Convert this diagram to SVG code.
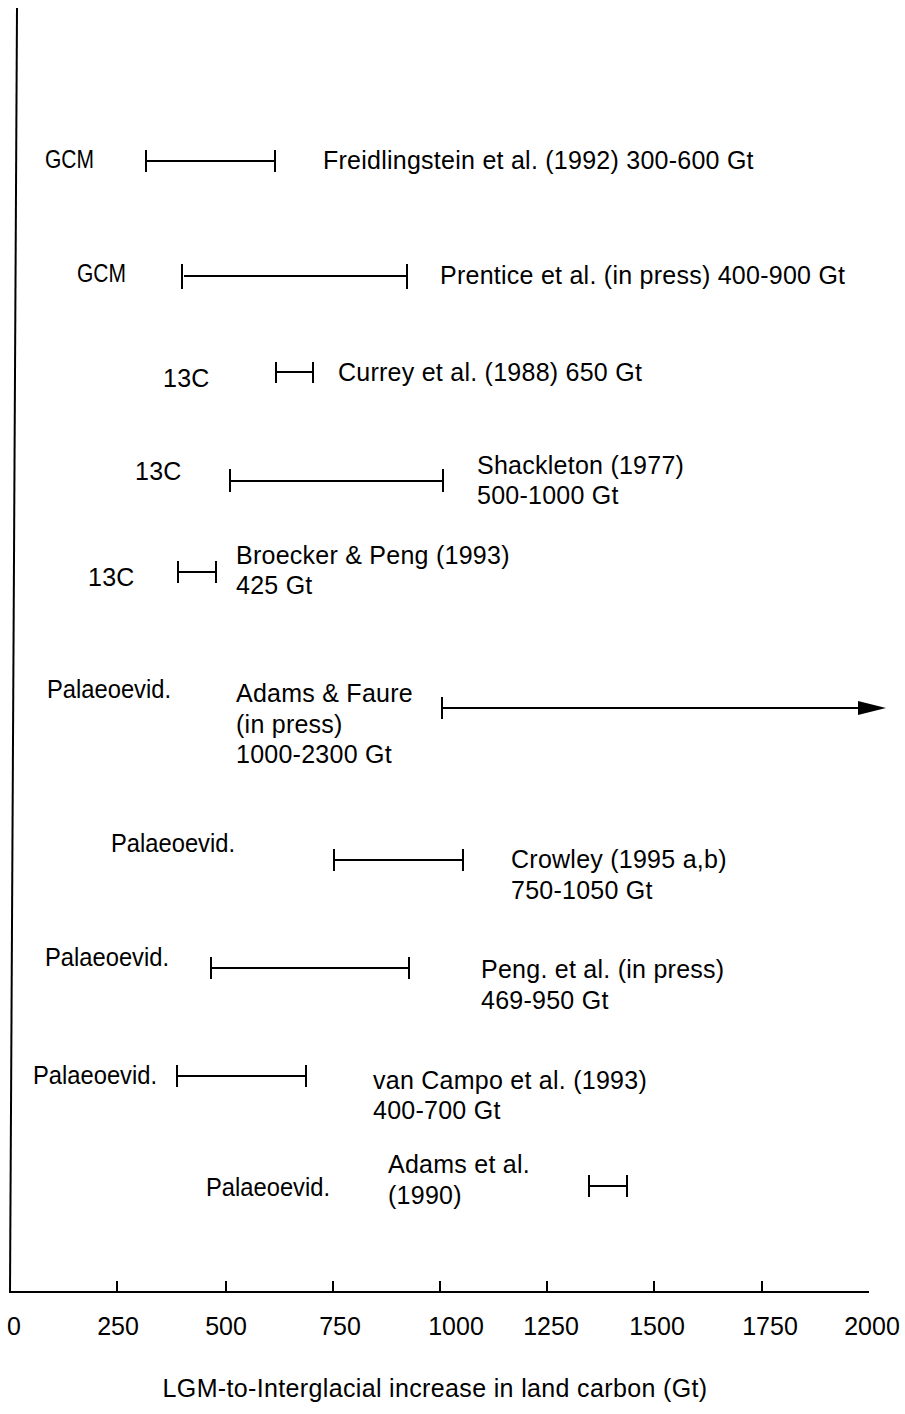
<svg xmlns="http://www.w3.org/2000/svg" width="905" height="1414" viewBox="0 0 905 1414">
<style>
text{font-family:"Liberation Sans",Arial,sans-serif;font-size:25px;letter-spacing:0.25px;fill:#000}
.ax{stroke:#000;stroke-width:2;fill:none}
.bar{stroke:#000;stroke-width:2;fill:none}
.tl{text-anchor:middle;letter-spacing:0}
.tt{text-anchor:middle;letter-spacing:0.35px}
.sq{letter-spacing:0}
</style>
<rect width="905" height="1414" fill="#fff"/>
<g id="axes">
<line class="ax" x1="17" y1="8" x2="10" y2="1293"/>
<line class="ax" x1="9" y1="1292" x2="869" y2="1292"/>
<path class="ax" d="M117 1281V1292M226 1281V1292M333 1281V1292M440 1281V1292M547 1281V1292M654 1281V1292M762 1281V1292"/>
<text x="14" y="1335" class="tl">0</text>
<text x="118" y="1335" class="tl">250</text>
<text x="226" y="1335" class="tl">500</text>
<text x="340" y="1335" class="tl">750</text>
<text x="456" y="1335" class="tl">1000</text>
<text x="551" y="1335" class="tl">1250</text>
<text x="657" y="1335" class="tl">1500</text>
<text x="770" y="1335" class="tl">1750</text>
<text x="872" y="1335" class="tl">2000</text>
<text x="435" y="1397" class="tt">LGM-to-Interglacial increase in land carbon (Gt)</text>
</g>
<g id="connectors">
<path class="bar" d="M146 150V172M146 161H275M275 150V172"/>
<path class="bar" d="M182 264V289M184 276H407M407 264V289"/>
<path class="bar" d="M276 362V383M276 372H313M313 362V383"/>
<path class="bar" d="M230 469V492M230 481H443M443 469V492"/>
<path class="bar" d="M178 561V583M178 572H216M216 561V583"/>
<path class="bar" d="M442 697V719M442 708H862"/>
<polygon points="858,701 886,708 858,715" fill="#000"/>
<path class="bar" d="M334 849V871M334 860H463M463 849V871"/>
<path class="bar" d="M211 957V979M211 968H409M409 957V979"/>
<path class="bar" d="M177 1065V1087M177 1076H306M306 1065V1087"/>
<path class="bar" d="M589 1175V1197M589 1186H627M627 1175V1197"/>
</g>
<g id="row1"><text class="sq" x="45" y="168" textLength="49" lengthAdjust="spacingAndGlyphs">GCM</text><text x="323" y="169">Freidlingstein et al. (1992) 300-600 Gt</text></g>
<g id="row2"><text class="sq" x="77" y="282" textLength="49" lengthAdjust="spacingAndGlyphs">GCM</text><text x="440" y="284">Prentice et al. (in press) 400-900 Gt</text></g>
<g id="row3"><text x="163" y="387">13C</text><text x="338" y="381">Currey et al. (1988) 650 Gt</text></g>
<g id="row4"><text x="135" y="480">13C</text><text x="477" y="474">Shackleton (1977)</text><text x="477" y="504">500-1000 Gt</text></g>
<g id="row5"><text x="88" y="586">13C</text><text x="236" y="564">Broecker &amp; Peng (1993)</text><text x="236" y="594">425 Gt</text></g>
<g id="row6"><text class="sq" x="47" y="698" textLength="124" lengthAdjust="spacingAndGlyphs">Palaeoevid.</text><text x="236" y="702">Adams &amp; Faure</text><text x="236" y="733">(in press)</text><text x="236" y="763">1000-2300 Gt</text></g>
<g id="row7"><text class="sq" x="111" y="852" textLength="124" lengthAdjust="spacingAndGlyphs">Palaeoevid.</text><text x="511" y="868">Crowley (1995 a,b)</text><text x="511" y="899">750-1050 Gt</text></g>
<g id="row8"><text class="sq" x="45" y="966" textLength="124" lengthAdjust="spacingAndGlyphs">Palaeoevid.</text><text x="481" y="978">Peng. et al. (in press)</text><text x="481" y="1009">469-950 Gt</text></g>
<g id="row9"><text class="sq" x="33" y="1084" textLength="124" lengthAdjust="spacingAndGlyphs">Palaeoevid.</text><text x="373" y="1089">van Campo et al. (1993)</text><text x="373" y="1119">400-700 Gt</text></g>
<g id="row10"><text class="sq" x="206" y="1196" textLength="124" lengthAdjust="spacingAndGlyphs">Palaeoevid.</text><text x="388" y="1173">Adams et al.</text><text x="388" y="1204">(1990)</text></g>
</svg>
